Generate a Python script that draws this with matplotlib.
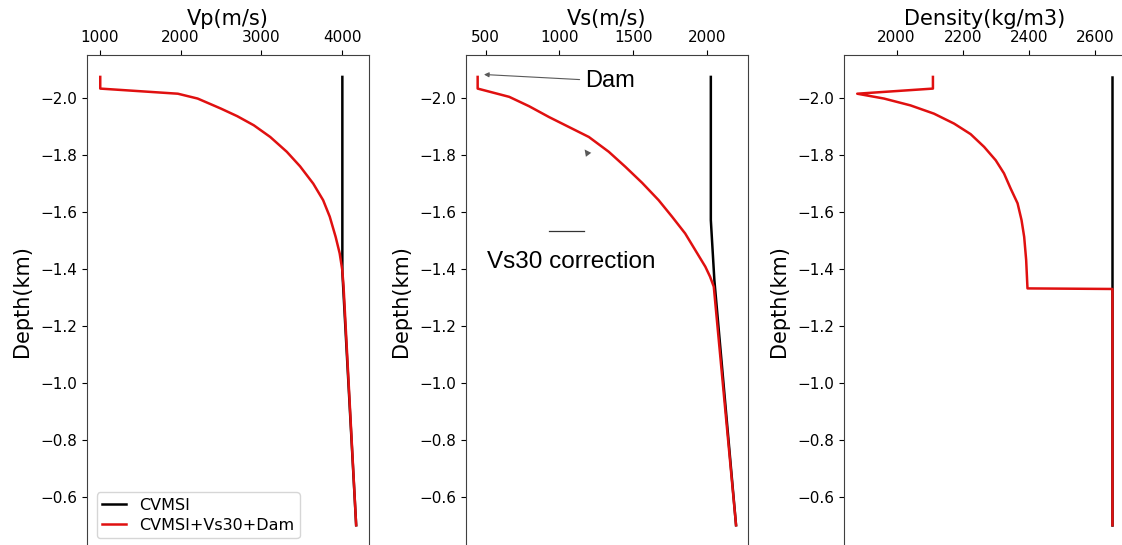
import matplotlib.pyplot as plt

# depth profiles (km, negative = below datum)
vp_depth_red = [-2.075, -2.034, -2.016, -1.999, -1.964, -1.937, -1.905, -1.864, -1.812,
                -1.761, -1.70, -1.642, -1.584, -1.513, -1.455, -1.397, -1.338, -0.50]
vp_red = [1005, 1005, 1966, 2211, 2497, 2702, 2907, 3110, 3315,
          3479, 3643, 3765, 3847, 3920, 3970, 4002, 4018, 4174]
vp_depth_blk = [-2.075, -1.39, -0.50]
vp_blk = [4003, 4003, 4174]

vs_depth_red = [-2.075, -2.034, -2.005, -1.972, -1.934, -1.899, -1.864, -1.812, -1.759,
                -1.703, -1.642, -1.584, -1.525, -1.467, -1.408, -1.373, -1.338, -0.50]
vs_red = [446, 446, 660, 795, 930, 1065, 1200, 1335, 1448,
          1561, 1673, 1764, 1853, 1921, 1990, 2022, 2047, 2198]
vs_depth_blk = [-2.075, -1.572, -1.361, -0.50]
vs_blk = [2027, 2027, 2051, 2198]

rho_depth_red = [-2.075, -2.034, -2.016, -1.999, -1.975, -1.946, -1.911, -1.874, -1.829,
                 -1.782, -1.736, -1.683, -1.631, -1.572, -1.513, -1.432, -1.332, -1.33, -0.50]
rho_red = [2110, 2110, 1881, 1962, 2042, 2113, 2174, 2224, 2265,
           2300, 2325, 2345, 2366, 2378, 2386, 2392, 2396, 2653, 2653]
rho_depth_blk = [-2.075, -0.50]
rho_blk = [2653, 2653]

titles = ['Vp(m/s)', 'Vs(m/s)', 'Density(kg/m3)']
yticks = [-2.0, -1.8, -1.6, -1.4, -1.2, -1.0, -0.8, -0.6]

fig = plt.figure(figsize=(11.22, 5.45), dpi=100)
W, H = 1122, 545
lefts = [87, 466, 844]
axes = [fig.add_axes([l / W, 1 - 548 / H, 282 / W, 493 / H]) for l in lefts]

data = [(vp_blk, vp_depth_blk, vp_red, vp_depth_red),
        (vs_blk, vs_depth_blk, vs_red, vs_depth_red),
        (rho_blk, rho_depth_blk, rho_red, rho_depth_red)]

for ax, (xb, yb, xr, yr), t in zip(axes, data, titles):
    ax.plot(xb, yb, color='black', lw=1.8, label='CVMSI')
    ax.plot(xr, yr, color='#e01010', lw=1.8, label='CVMSI+Vs30+Dam')
    ax.xaxis.tick_top()
    ax.xaxis.set_label_position('top')
    ax.set_xlabel(t, fontsize=15, labelpad=4)
    ax.set_ylabel('Depth(km)', fontsize=15, labelpad=6)
    ax.set_yticks(yticks)
    ax.set_ylim(-0.42, -2.152)
    ax.tick_params(labelsize=11)
    for s in ax.spines.values():
        s.set_color('0.25')

axes[0].set_xlim(841, 4333)
axes[0].set_xticks([1000, 2000, 3000, 4000])
axes[1].set_xlim(367, 2279)
axes[1].set_xticks([500, 1000, 1500, 2000])
axes[2].set_xlim(1841, 2694)
axes[2].set_xticks([2000, 2200, 2400, 2600])

axes[0].legend(loc='lower left', fontsize=11.5, handlelength=1.5,
               borderpad=0.35, labelspacing=0.3, borderaxespad=0.6)

ax = axes[1]
ax.annotate('Dam', xy=(470, -2.084), xytext=(1175, -2.06),
            fontsize=17, family='Liberation Sans', va='center',
            arrowprops=dict(arrowstyle='-|>', color='0.35', lw=0.8, mutation_scale=7))
ax.text(510, -1.405, 'Vs30 correction', fontsize=17.5, family='Liberation Sans')
ax.plot([928, 1164], [-1.533, -1.533], color='0.2', lw=0.9)
ax.annotate('', xy=(1160, -1.828), xytext=(1200, -1.80),
            arrowprops=dict(arrowstyle='-|>', color='0.35', lw=0, mutation_scale=12))

fig.savefig('out.png', dpi=100)
